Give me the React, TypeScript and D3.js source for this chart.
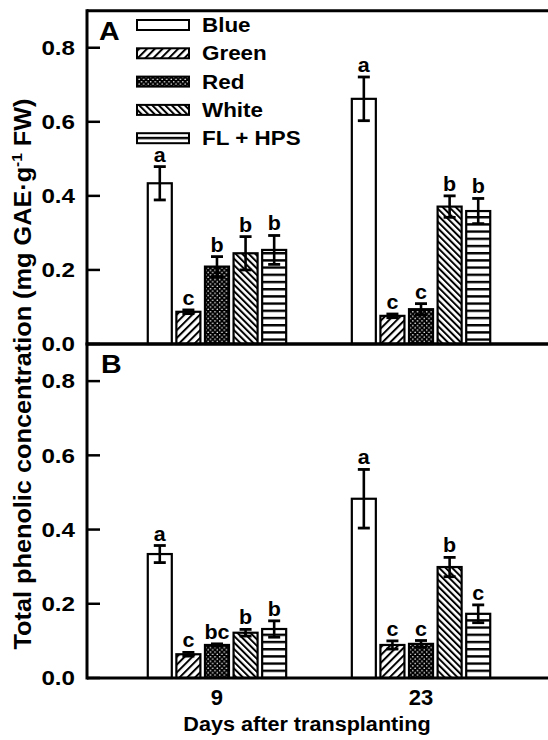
import React from 'react';
import * as d3 from 'd3';

const days = ['9', '23'];
const series = ['Blue', 'Green', 'Red', 'White', 'FL + HPS'];
const panelAMeans = [
  [0.434, 0.087, 0.209, 0.245, 0.254],
  [0.662, 0.076, 0.094, 0.371, 0.359],
];
const panelAErr = [
  [0.045, 0.005, 0.027, 0.045, 0.039],
  [0.059, 0.005, 0.015, 0.029, 0.034],
];
const panelALetters = [
  ['a', 'c', 'b', 'b', 'b'],
  ['a', 'c', 'c', 'b', 'b'],
];
const panelBMeans = [
  [0.334, 0.064, 0.089, 0.122, 0.132],
  [0.483, 0.089, 0.092, 0.299, 0.173],
];
const panelBErr = [
  [0.023, 0.005, 0.003, 0.009, 0.022],
  [0.079, 0.011, 0.009, 0.026, 0.024],
];
const panelBLetters = [
  ['a', 'c', 'bc', 'b', 'b'],
  ['a', 'c', 'c', 'b', 'c'],
];
const yTicks = [0, 0.2, 0.4, 0.6, 0.8];

const W = 548;
const H = 740;
const FONT = "'Liberation Sans', Arial, Helvetica, sans-serif";
const fills = ['#fff', 'url(#pGreen)', 'url(#pRed)', 'url(#pWhite)', 'url(#pFL)'];

function T({ x, y, size, anchor = 'start', children, rotate = 0, sx = 1.15 }: any) {
  return (
    <text
      transform={`translate(${x},${y}) rotate(${rotate}) scale(${sx},1)`}
      fontFamily={FONT}
      fontWeight="bold"
      fontSize={size}
      textAnchor={anchor}
      fill="#000"
    >
      {children}
    </text>
  );
}

export default function App() {
  const left = 87;
  const right = 551;
  const x = d3.scalePoint<string>().domain(days).range([left, right]).padding(0.637);
  const inner = d3.scaleBand<string>().domain(series).range([-69.2, 69.2]).paddingInner(0.16).paddingOuter(0);
  const bw = inner.bandwidth();

  const panels = [
    { y: d3.scaleLinear().domain([0, 0.9]).range([344, 10.7]), means: panelAMeans, err: panelAErr, letters: panelALetters, label: 'A', lx: 99, ly: 40 },
    { y: d3.scaleLinear().domain([0, 0.9]).range([678, 344]), means: panelBMeans, err: panelBErr, letters: panelBLetters, label: 'B', lx: 101, ly: 373 },
  ];

  return (
    <svg width={W} height={H} style={{ position: 'absolute', left: 0, top: 0, background: '#fff' }}>
      <defs>
        <pattern id="pGreen" patternUnits="userSpaceOnUse" width="5.5" height="5.5" patternTransform="rotate(45)">
          <rect width="5.5" height="5.5" fill="#fff" />
          <line x1="1" y1="0" x2="1" y2="5.5" stroke="#000" strokeWidth="2" />
        </pattern>
        <pattern id="pWhite" patternUnits="userSpaceOnUse" width="4.6" height="4.6" patternTransform="rotate(-45)">
          <rect width="4.6" height="4.6" fill="#fff" />
          <line x1="1" y1="0" x2="1" y2="4.6" stroke="#000" strokeWidth="2" />
        </pattern>
        <pattern id="pRed" patternUnits="userSpaceOnUse" width="4.6" height="4.6">
          <rect width="4.6" height="4.6" fill="#000" />
          <circle cx="1.15" cy="1.15" r="0.8" fill="#fff" />
          <circle cx="3.45" cy="3.45" r="0.8" fill="#fff" />
        </pattern>
        <pattern id="pFL" patternUnits="userSpaceOnUse" width="7" height="7.2">
          <rect width="7" height="7.2" fill="#fff" />
          <rect y="0" width="7" height="2.4" fill="#000" />
        </pattern>
      </defs>

      {panels.map((p, pi) => {
        const [y0, y1] = p.y.range();
        return (
          <g key={pi}>
            {days.map((d, di) =>
              series.map((s, si) => {
                const cx = (x(d) as number) + (inner(s) as number);
                const v = p.means[di][si];
                const e = p.err[di][si];
                const mid = cx + bw / 2;
                return (
                  <g key={d + s}>
                    <rect x={cx} y={p.y(v)} width={bw} height={y0 - p.y(v)} fill={fills[si]} stroke="#000" strokeWidth={2.2} />
                    <line x1={mid} x2={mid} y1={p.y(v + e)} y2={p.y(Math.max(0, v - e))} stroke="#000" strokeWidth={2.6} />
                    <line x1={mid - 6} x2={mid + 6} y1={p.y(v + e)} y2={p.y(v + e)} stroke="#000" strokeWidth={2.8} />
                    <line x1={mid - 6} x2={mid + 6} y1={p.y(Math.max(0, v - e))} y2={p.y(Math.max(0, v - e))} stroke="#000" strokeWidth={2.8} />
                    <T x={mid} y={p.y(v + e) - 5} size={19.5} sx={1.1} anchor="middle">{p.letters[di][si]}</T>
                  </g>
                );
              })
            )}
            {/* axes */}
            <line x1={left} x2={W} y1={y0} y2={y0} stroke="#000" strokeWidth={3} />
            <line x1={left} x2={W} y1={y1} y2={y1} stroke="#000" strokeWidth={3} />
            <line x1={left} x2={left} y1={y1 - 1.5} y2={y0 + 1.5} stroke="#000" strokeWidth={3} />
            {yTicks.map((t) => (
              <g key={t}>
                <line x1={left} x2={left + 13} y1={p.y(t)} y2={p.y(t)} stroke="#000" strokeWidth={2.5} />
                <T x={75} y={p.y(t) + 7.3} size={20.5} sx={1.18} anchor="end">{t.toFixed(1)}</T>
              </g>
            ))}
            <T x={p.lx} y={p.ly} size={26} sx={1.1}>{p.label}</T>
          </g>
        );
      })}

      {/* legend */}
      {series.map((s, i) => {
        const cy = 25 + i * 28.3;
        return (
          <g key={s}>
            <rect x={137} y={cy - 5} width={52} height={10} fill={fills[i]} stroke="#000" strokeWidth={2} />
            <T x={202} y={cy + 7} size={19.5}>{s}</T>
          </g>
        );
      })}

      {days.map((d) => (
        <T key={d} x={x(d) as number} y={705} size={22} sx={1} anchor="middle">{d}</T>
      ))}
      <T x={307} y={731} size={21} sx={1.03} anchor="middle">Days after transplanting</T>
      <g transform="translate(31,374) rotate(-90) scale(1.1,1)">
        <text fontFamily={FONT} fontWeight="bold" fontSize={23} textAnchor="middle" fill="#000">
          Total phenolic concentration (mg GAE·g<tspan fontSize={14} dy={-9}>-1</tspan><tspan dy={9}> FW)</tspan>
        </text>
      </g>
    </svg>
  );
}
